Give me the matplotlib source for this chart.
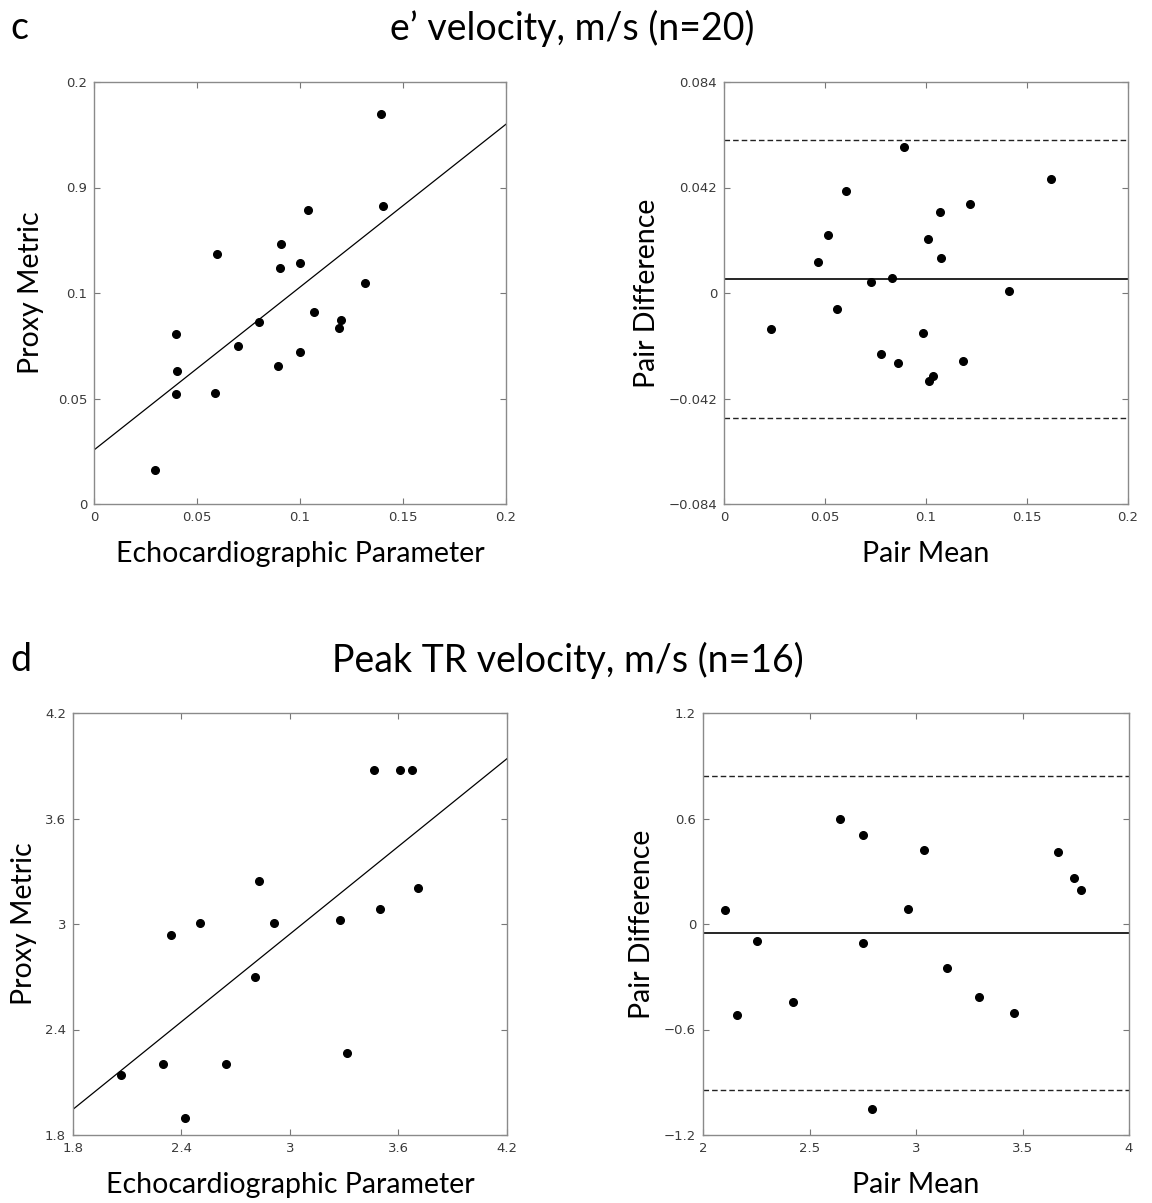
import numpy as np
import matplotlib
matplotlib.use("Agg")
import matplotlib.pyplot as plt

# e' velocity (n=20): echo parameter vs proxy metric
c_echo = [0.0296, 0.0400, 0.0403, 0.0400, 0.0589, 0.0597, 0.0701, 0.0803, 0.0895, 0.0901,
          0.0908, 0.0998, 0.0998, 0.1040, 0.1068, 0.1188, 0.1199, 0.1317, 0.1393, 0.1403]
c_proxy = [0.0161, 0.0522, 0.0630, 0.0807, 0.0526, 0.1185, 0.0748, 0.0862, 0.0652, 0.1118,
           0.1231, 0.1143, 0.0720, 0.1392, 0.0908, 0.0833, 0.0871, 0.1047, 0.1848, 0.1411]
c_fit = (0.0256, 0.772)  # intercept, slope

# e' velocity Bland-Altman
c_mean = [0.0231, 0.0465, 0.0517, 0.0558, 0.0603, 0.0727, 0.0776, 0.0834, 0.0860, 0.0893,
          0.0987, 0.1010, 0.1013, 0.1036, 0.1069, 0.1072, 0.1183, 0.1216, 0.1409, 0.1621]
c_diff = [-0.0143, 0.0123, 0.0229, -0.0064, 0.0408, 0.0044, -0.0242, 0.0060, -0.0279, 0.0583,
          -0.0160, 0.0215, -0.0352, -0.0331, 0.0324, 0.0140, -0.0271, 0.0353, 0.0006, 0.0453]
c_bias, c_loa_hi, c_loa_lo = 0.0055, 0.0608, -0.0497

# Peak TR velocity (n=16)
d_echo = [2.067, 2.299, 2.342, 2.417, 2.502, 2.644, 2.806, 2.826, 2.914, 3.274,
          3.316, 3.463, 3.498, 3.611, 3.675, 3.708]
d_proxy = [2.140, 2.202, 2.936, 1.899, 3.007, 2.202, 2.699, 3.247, 3.003, 3.020,
           2.265, 3.873, 3.088, 3.873, 3.873, 3.204]
d_fit = (1.946 - 0.831 * 1.8, 0.831)

d_mean = [2.103, 2.158, 2.253, 2.423, 2.641, 2.753, 2.753, 2.792, 2.963, 3.039,
          3.147, 3.295, 3.458, 3.669, 3.742, 3.775]
d_diff = [0.077, -0.519, -0.096, -0.441, 0.597, 0.508, -0.107, -1.052, 0.088, 0.422,
          -0.251, -0.414, -0.507, 0.407, 0.263, 0.196]
d_bias, d_loa_hi, d_loa_lo = -0.054, 0.841, -0.942

c_xticks = [0, 0.05, 0.1, 0.15, 0.2]
c_xlabels = ['0', '0.05', '0.1', '0.15', '0.2']
c_yticks = [0, 0.05, 0.1, 0.15, 0.2]
c_ylabels = ['0', '0.05', '0.1', '0.9', '0.2']
c_dticks = [-0.084, -0.042, 0, 0.042, 0.084]
c_dlabels = ['\u22120.084', '\u22120.042', '0', '0.042', '0.084']
d_xticks = [1.8, 2.4, 3, 3.6, 4.2]
d_xlabels = ['1.8', '2.4', '3', '3.6', '4.2']
d_mticks = [2, 2.5, 3, 3.5, 4]
d_mlabels = ['2', '2.5', '3', '3.5', '4']
d_dticks = [-1.2, -0.6, 0, 0.6, 1.2]
d_dlabels = ['\u22121.2', '\u22120.6', '0', '0.6', '1.2']

LABEL_FONT = 'Lato'
TICK_FONT = 'DejaVu Sans'
DASH = (0, (4, 2.2))


def style_axes(ax, xticks, xlabels, yticks, ylabels, xlabel, ylabel, ypad=6):
    ax.set_xlim(xticks[0], xticks[-1])
    ax.set_ylim(yticks[0], yticks[-1])
    ax.set_xticks(xticks)
    ax.set_xticklabels(xlabels)
    ax.set_yticks(yticks)
    ax.set_yticklabels(ylabels)
    ax.tick_params(direction='in', length=4, width=0.8, colors='#777777',
                   top=True, right=True, labelsize=9.5, labelcolor='#3a3a3a', pad=5)
    for lab in ax.get_xticklabels() + ax.get_yticklabels():
        lab.set_family(TICK_FONT)
    for sp in ax.spines.values():
        sp.set_color('#8a8a8a')
        sp.set_linewidth(1.0)
    ax.set_xlabel(xlabel, family=LABEL_FONT, fontsize=20.5, labelpad=12)
    ax.set_ylabel(ylabel, family=LABEL_FONT, fontsize=20.5, labelpad=ypad)


def scatter_fit(ax, x, y, fit, xlim):
    xs = np.array(xlim)
    ax.plot(xs, fit[0] + fit[1] * xs, color='black', lw=0.9)
    ax.plot(x, y, 'o', color='black', ms=5.5, mec='black')


def bland_altman(ax, x, y, bias, hi, lo):
    ax.axhline(bias, color='black', lw=1.2)
    ax.axhline(hi, color='#222222', lw=1.0, ls=DASH)
    ax.axhline(lo, color='#222222', lw=1.0, ls=DASH)
    ax.plot(x, y, 'o', color='black', ms=5.5, mec='black')


W, H = 1152, 1203
fig = plt.figure(figsize=(W / 100, H / 100), dpi=100)


def add_axes(x0, y0, x1, y1):
    return fig.add_axes([x0 / W, 1 - y1 / H, (x1 - x0) / W, (y1 - y0) / H])


ax1 = add_axes(94, 82, 506, 504)
scatter_fit(ax1, c_echo, c_proxy, c_fit, (0, 0.2))
style_axes(ax1, c_xticks, c_xlabels, c_yticks, c_ylabels,
           'Echocardiographic Parameter', 'Proxy Metric', ypad=10)

ax2 = add_axes(724, 82, 1128, 504)
bland_altman(ax2, c_mean, c_diff, c_bias, c_loa_hi, c_loa_lo)
style_axes(ax2, c_xticks, c_xlabels, c_dticks, c_dlabels, 'Pair Mean', 'Pair Difference')

ax3 = add_axes(73, 713, 507, 1135)
scatter_fit(ax3, d_echo, d_proxy, d_fit, (1.8, 4.2))
style_axes(ax3, d_xticks, d_xlabels, d_xticks, d_xlabels,
           'Echocardiographic Parameter', 'Proxy Metric')

ax4 = add_axes(703, 713, 1129, 1135)
bland_altman(ax4, d_mean, d_diff, d_bias, d_loa_hi, d_loa_lo)
style_axes(ax4, d_mticks, d_mlabels, d_dticks, d_dlabels, 'Pair Mean', 'Pair Difference')

fig.text(10 / W, 1 - 28 / H, 'c', family=LABEL_FONT, fontsize=27, va='center')
fig.text(572 / W, 1 - 28 / H, 'e\u2019 velocity, m/s (n=20)', family=LABEL_FONT,
         fontsize=27, va='center', ha='center')
fig.text(10 / W, 1 - 660 / H, 'd', family=LABEL_FONT, fontsize=27, va='center')
fig.text(568 / W, 1 - 660 / H, 'Peak TR velocity, m/s (n=16)', family=LABEL_FONT,
         fontsize=27, va='center', ha='center')

fig.savefig('out.png', dpi=100)
